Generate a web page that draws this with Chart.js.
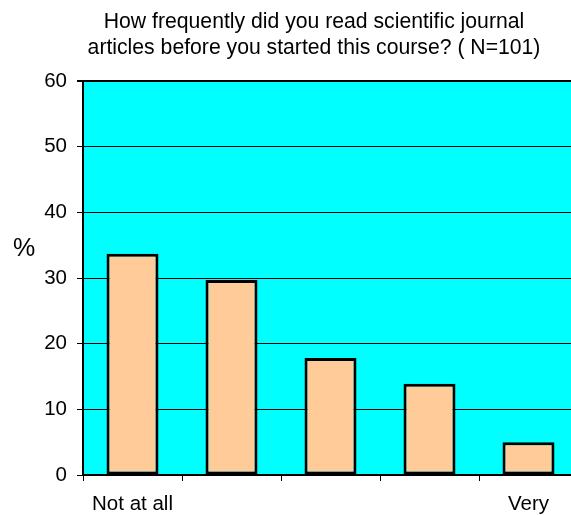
<!DOCTYPE html>
<html>
<head>
<meta charset="utf-8">
<script src="https://cdn.jsdelivr.net/npm/chart.js@4/dist/chart.umd.min.js"></script>
<style>
  html, body { margin: 0; padding: 0; background: #fff; overflow: hidden; }
  #wrap { width: 590px; height: 515px; position: relative; }
</style>
</head>
<body>
<div id="wrap"><canvas id="freqChart"></canvas></div>
<script>
const categories = ['Not at all', '', '', '', 'Very'];
const percents = [33.7, 29.7, 17.8, 13.9, 5.0];
const yTicks = [0, 10, 20, 30, 40, 50, 60];
const titleLines = [
  'How frequently did you read scientific journal',
  'articles before you started this course? ( N=101)'
];
const yTitle = '%';

const FONT = '"Liberation Sans", Arial, sans-serif';

// cyan plot background
const plotBg = {
  id: 'plotBg',
  beforeDraw(chart) {
    const { ctx, chartArea: a } = chart;
    ctx.save();
    ctx.fillStyle = '#00FFFF';
    ctx.fillRect(a.left, a.top, a.right - a.left, a.bottom - a.top);
    ctx.restore();
  }
};

// title and unrotated "%" label
const texts = {
  id: 'texts',
  afterDraw(chart) {
    const ctx = chart.ctx;
    ctx.save();
    ctx.fillStyle = '#000';
    ctx.textAlign = 'center';
    ctx.textBaseline = 'alphabetic';
    ctx.font = '21.2px ' + FONT;
    ctx.fillText(titleLines[0], 314, 28);
    ctx.fillText(titleLines[1], 314, 54);
    ctx.font = '25px ' + FONT;
    ctx.textBaseline = 'middle';
    ctx.fillText(yTitle, 24, 249);
    ctx.restore();
  }
};

new Chart(document.getElementById('freqChart'), {
  type: 'bar',
  data: {
    labels: categories,
    datasets: [{
      data: percents,
      backgroundColor: '#FFCC99',
      borderColor: '#000',
      borderWidth: 3,
      borderSkipped: false,
      barPercentage: 0.525,
      categoryPercentage: 1.0
    }]
  },
  options: {
    responsive: true,
    maintainAspectRatio: false,
    animation: false,
    devicePixelRatio: 1,
    layout: { padding: { top: 81, right: 12, left: 0, bottom: 0 } },
    plugins: {
      legend: { display: false },
      title: { display: false },
      tooltip: { enabled: false }
    },
    scales: {
      x: {
        grid: {
          offset: true,
          drawOnChartArea: false,
          drawTicks: true,
          tickLength: 6,
          color: '#000'
        },
        border: { color: '#000', width: 2 },
        ticks: {
          color: '#000',
          font: { family: FONT, size: 20.5 },
          padding: 11,
          maxRotation: 0,
          autoSkip: false
        },
        afterFit(s) { s.height = 40; }
      },
      y: {
        min: 0,
        max: 60,
        afterBuildTicks(s) { s.ticks = yTicks.map(v => ({ value: v })); },
        grid: {
          color: '#000',
          lineWidth: c => (c.tick && c.tick.value === 60 ? 2 : 1),
          tickLength: 6
        },
        border: { color: '#000', width: 2 },
        ticks: {
          color: '#000',
          font: { family: FONT, size: 20.5 },
          padding: 10
        },
        afterFit(s) { s.width = 83; }
      }
    }
  },
  plugins: [plotBg, texts]
});
</script>
</body>
</html>
